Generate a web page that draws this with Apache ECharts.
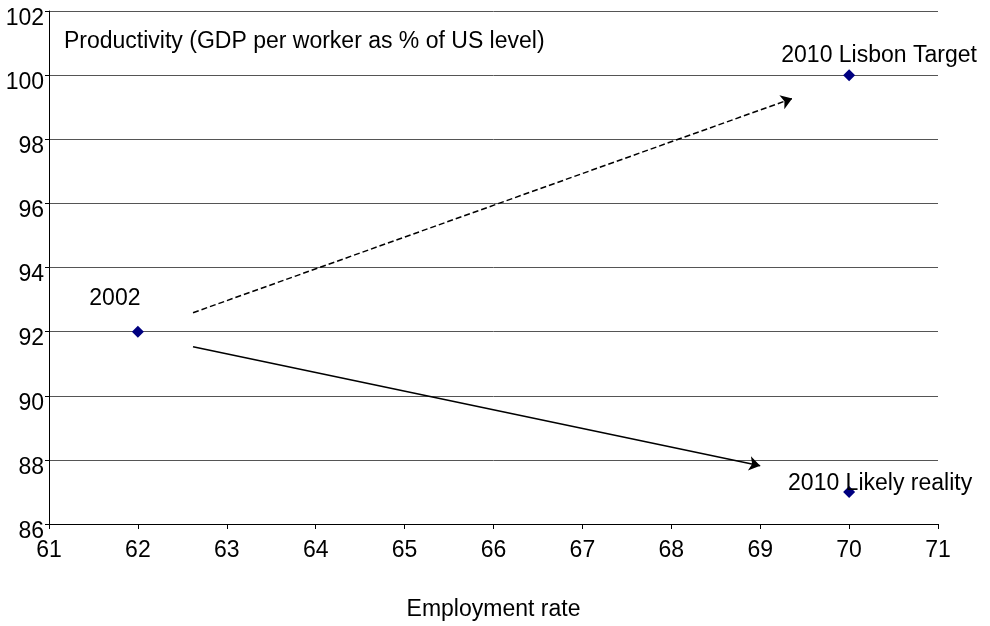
<!DOCTYPE html>
<html><head><meta charset="utf-8">
<script src="https://cdn.jsdelivr.net/npm/echarts@6/dist/echarts.min.js"></script>
<style>html,body{margin:0;padding:0;background:#fff}#c{width:990px;height:626px}</style>
</head><body><div id="c"></div>
<script>
const pointNames = ['2002', '2010 Lisbon Target', '2010 Likely reality'];
const employment = [62, 70, 70];
const productivity = [92, 100, 87];
const targetArrow = [[62.62, 92.59], [69.36, 99.27]];
const realityArrow = [[62.62, 91.53], [69.0, 87.82]];
const xTicks = [61, 71, 1];
const yTicks = [86, 102, 2];

const FONT = 'Liberation Sans';
const FS = 23;
const chart = echarts.init(document.getElementById('c'));
const labelPos = [
  {position: 'top', offset: [-23, -10]},
  {position: 'top', offset: [30, 3]},
  {position: 'top', offset: [31, 14]}
];
chart.setOption({
  animation: false,
  title: {text: 'Productivity (GDP per worker as % of US level)', left: 59, top: 25,
    textStyle: {fontFamily: FONT, fontSize: FS, fontWeight: 'normal', color: '#000'}},
  grid: {left: 49, right: 52, top: 11, bottom: 102, outerBoundsMode: 'none', containLabel: false},
  xAxis: {type: 'value', min: xTicks[0], max: xTicks[1], interval: xTicks[2],
    name: 'Employment rate', nameLocation: 'middle', nameGap: 74,
    nameTextStyle: {fontFamily: FONT, fontSize: FS, color: '#000'},
    axisLine: {show: true, lineStyle: {color: '#000', width: 1}},
    axisTick: {show: true, length: 5, lineStyle: {color: '#000'}},
    axisLabel: {fontFamily: FONT, fontSize: FS, color: '#000', margin: 15},
    splitLine: {show: false}},
  yAxis: {type: 'value', min: yTicks[0], max: yTicks[1], interval: yTicks[2],
    axisLine: {show: true, lineStyle: {color: '#000', width: 1}},
    axisTick: {show: true, length: 4, lineStyle: {color: '#000'}},
    axisLabel: {fontFamily: FONT, fontSize: FS, color: '#000', margin: 5,
      verticalAlign: 'top', lineHeight: 15},
    splitLine: {show: true, lineStyle: {color: '#555', width: 1}}},
  series: [
    {type: 'scatter', symbol: 'diamond', symbolSize: 12,
      itemStyle: {color: '#000080', opacity: 1},
      data: employment.map((x, i) => ({value: [x, productivity[i]], name: pointNames[i],
        label: Object.assign({show: true, formatter: pointNames[i], fontFamily: FONT, fontSize: FS,
          color: '#000', opacity: 1, textBorderWidth: 0}, labelPos[i])}))},
    {type: 'lines', coordinateSystem: 'cartesian2d', symbol: ['none', 'arrow'], symbolSize: [7, 11],
      lineStyle: {color: '#000', width: 1.5, type: [6, 3], opacity: 1},
      data: [{coords: targetArrow}]},
    {type: 'lines', coordinateSystem: 'cartesian2d', symbol: ['none', 'arrow'], symbolSize: [7, 11],
      lineStyle: {color: '#000', width: 1.5, type: 'solid', opacity: 1},
      data: [{coords: realityArrow}]}
  ]
});
</script></body></html>
